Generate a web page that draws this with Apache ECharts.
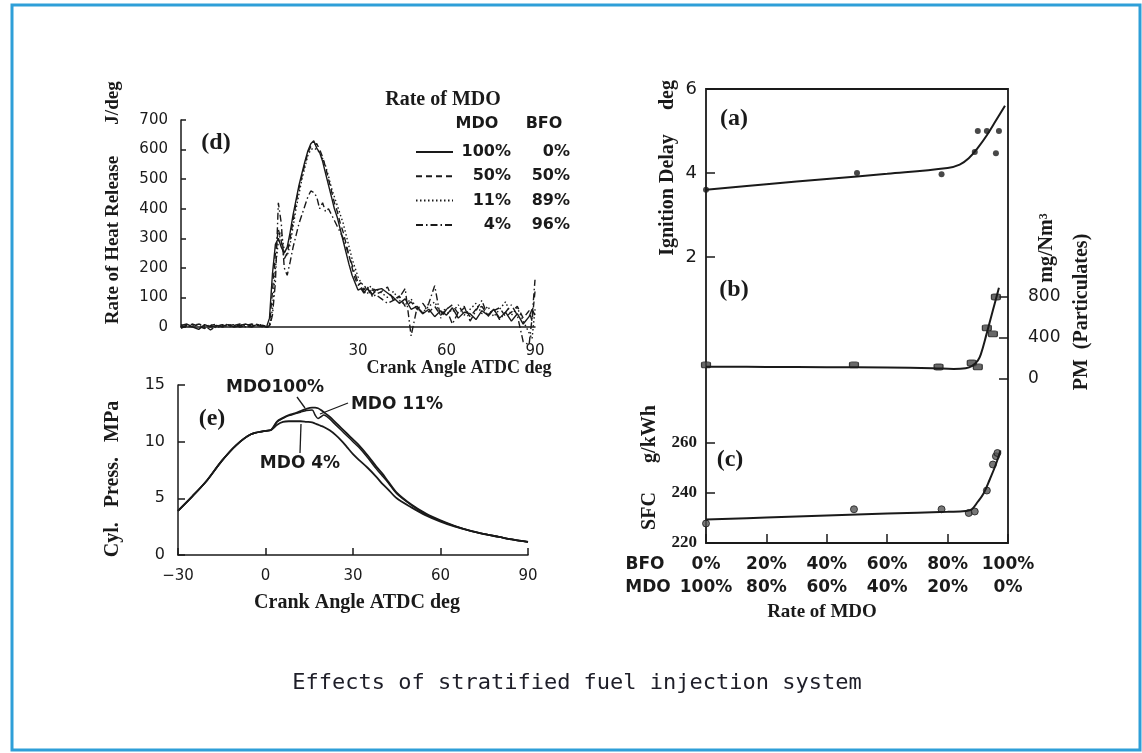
<!DOCTYPE html>
<html>
<head>
<meta charset="utf-8">
<script src="https://cdn.jsdelivr.net/npm/echarts@6/dist/echarts.min.js"></script>
<style>
html,body{margin:0;padding:0;background:#fff;}
#main{width:1142px;height:753px;}
</style>
</head>
<body>
<div id="main"></div>
<script>
// (d) rate of heat release, crank angle deg
var angD = [-30,-28,-26,-24,-22,-20,-18,-16,-14,-12,-10,-8,-6,-4,-2,
	-1,0,1,2,3,4,5,6,7,8,9,10,11,12,13,14,15,16,17,18,19,20,21,22,23,24,25,26,27,28,29,30,31,32,33,34,35,36,
	38,40,42,44,46,48,50,52,54,56,58,60,62,64,66,68,70,72,74,76,78,80,82,84,86,88,89,90];
var hr100 = [5,10,0,-8,8,0,5,2,8,0,5,10,3,8,2,
	0,30,180,280,300,270,250,270,320,380,
	430,480,520,560,595,620,630,605,590,560,
	520,480,440,400,370,330,290,250,210,175,
	150,125,130,115,130,120,110,125,
	130,115,100,80,95,60,70,45,60,35,55,40,65,
	30,50,45,25,55,40,60,30,50,20,45,10,35,
	60,40];
var hr50 = [0,5,10,2,-5,5,10,0,5,8,0,5,10,5,0,
	0,5,120,250,330,290,230,250,300,360,
	420,470,510,550,590,610,615,620,600,575,
	540,500,460,420,390,350,320,280,240,200,
	165,140,150,125,140,115,130,110,
	120,135,90,105,70,85,60,80,50,70,40,60,75,
	45,65,35,60,70,40,55,65,35,50,70,30,55,
	20,120];
var hr11 = [8,0,5,10,0,8,-3,5,10,2,8,0,5,10,5,
	3,0,60,200,290,320,260,240,280,340,
	400,450,500,540,580,600,605,600,590,570,
	545,510,470,440,410,380,350,310,270,230,
	200,170,150,140,130,140,120,130,
	115,100,120,90,75,95,60,50,70,85,45,65,50,
	75,40,60,80,45,70,35,60,85,40,65,20,-20,
	-40,60];
var hr4 = [-5,5,0,10,5,-10,3,8,0,5,10,3,0,8,5,
	0,0,40,150,420,350,200,175,220,270,
	310,350,380,410,440,460,455,440,400,420,
	390,400,380,360,340,320,300,270,240,210,
	180,150,135,120,110,125,100,110,
	95,80,90,100,130,-30,65,45,80,140,30,60,10,
	50,70,20,55,90,35,60,25,50,75,40,-50,-60,
	30,160];
var mdoRates = ['100%','50%','11%','4%'];
var bfoRates = ['0%','50%','89%','96%'];

// (e) cylinder pressure MPa
var angE = [-30,-25,-20,-15,-10,-5,0,2,4,6,8,10,12,14,16,17,18,19,20,22,24,26,28,30,32,35,38,40,42,45,50,55,60,65,70,75,80,85,90];
var p100 = [3.9,5.2,6.6,8.3,9.7,10.65,10.95,11.05,11.8,12.1,12.35,12.5,12.7,12.9,13.0,13.0,12.95,12.8,12.6,12.2,11.7,11.2,10.7,10.2,9.7,8.8,7.8,7.2,6.5,5.5,4.45,3.65,3.05,2.55,2.15,1.85,1.6,1.35,1.15];
var p11 = [3.9,5.2,6.6,8.3,9.7,10.65,10.95,11.05,11.75,12.05,12.3,12.45,12.6,12.75,12.8,12.35,12.05,12.2,12.35,12.0,11.5,11.0,10.5,10.0,9.5,8.6,7.6,7.0,6.4,5.4,4.4,3.6,3.0,2.55,2.15,1.85,1.6,1.35,1.15];
var p4 = [3.9,5.2,6.6,8.3,9.7,10.65,10.95,11.05,11.5,11.75,11.8,11.8,11.8,11.75,11.7,11.6,11.5,11.4,11.3,11.0,10.6,10.1,9.5,8.9,8.4,7.7,6.9,6.3,5.8,5.0,4.2,3.5,2.95,2.5,2.15,1.85,1.6,1.35,1.15];

// (a) ignition delay vs BFO rate %
var bfoA = [0,50,78,89,90,93,96,97];
var delayA = [3.6,4.0,3.97,4.5,5.0,5.0,4.47,5.0];
var fitXA = [0,20,40,60,80,84,87,90,93,96,99];
var fitA = [3.6,3.73,3.86,3.98,4.12,4.2,4.35,4.6,4.9,5.25,5.6];
// (b) PM mg/Nm3
var bfoB = [0,49,77,88,90,93,95,96];
var pmB = [137,137,117,156,118,498,440,800];
var fitXB = [0,20,40,60,75,82,86,88,90,91,93,95,97];
var fitB = [120,118,115,112,105,98,105,125,180,240,450,670,890];
// (c) SFC g/kWh
var bfoC = [0,49,78,87,89,93,95,96,96.5];
var sfcC = [227.8,233.5,233.5,232,232.6,241,251.4,254.7,256];
var fitXC = [0,20,40,60,80,86,88,90,92,94,96,97.5];
var fitC = [229.4,230.2,231,231.8,232.5,232.8,233.5,236.5,240,245.5,251.5,257];

// tick labels shown on the right-hand panel
var ticksA = [2,4,6];
var ticksB = [0,400,800];
var ticksC = [220,240,260];

function zip(xs, ys){ return xs.map(function(x,i){ return [x, ys[i]]; }); }

var ink = '#1a1a1a';
var sans = '"DejaVu Sans", sans-serif';
var serif = '"Liberation Serif", serif';

var dom = document.getElementById("main");
var myChart = echarts.init(dom);

option = {
	animation: false,
	backgroundColor: '#fff',
	grid: [
		{left:181, top:120, width:354, height:207, outerBoundsMode:'none'},   // d
		{left:178, top:385, width:350, height:170, outerBoundsMode:'none'},   // e
		{left:706, top:89, width:302, height:252, outerBoundsMode:'none'},    // a
		{left:706, top:256, width:302, height:123, outerBoundsMode:'none'},   // b
		{left:706, top:393, width:302, height:150, outerBoundsMode:'none'},   // c
		{left:706, top:89, width:302, height:454, outerBoundsMode:'none', show:true, borderColor:ink, borderWidth:1.8, backgroundColor:'transparent'} // frame
	],
	xAxis: [
		{gridIndex:0, type:'value', min:-30, max:90, interval:30,
			axisLine:{show:true, onZero:true, lineStyle:{color:ink, width:1.5}},
			axisTick:{show:false}, splitLine:{show:false},
			axisLabel:{margin:17, color:ink, fontFamily:sans, fontSize:15, formatter:function(v){ return v === -30 ? '' : v; }}},
		{gridIndex:1, type:'value', min:-30, max:90, interval:30,
			axisLine:{show:true, onZero:false, lineStyle:{color:ink, width:1.5}},
			axisTick:{show:true, inside:true, length:7, lineStyle:{color:ink, width:1.5}}, splitLine:{show:false},
			axisLabel:{margin:14, color:ink, fontFamily:sans, fontSize:15, formatter:function(v){ return v < 0 ? '\u2212' + (-v) : v; }}},
		{gridIndex:2, type:'value', min:0, max:100, show:false},
		{gridIndex:3, type:'value', min:0, max:100, show:false},
		{gridIndex:4, type:'value', min:0, max:100, interval:20,
			axisLine:{show:false, onZero:false},
			axisTick:{show:true, inside:true, length:9, lineStyle:{color:ink, width:1.5}}, splitLine:{show:false},
			axisLabel:{margin:10, color:ink, fontFamily:sans, fontWeight:'bold', fontSize:17, lineHeight:23,
				formatter:function(v){ return v + '%\n' + (100 - v) + '%'; }}},
		{gridIndex:5, type:'value', min:0, max:100, show:false}
	],
	yAxis: [
		{gridIndex:0, type:'value', min:0, max:700, interval:100,
			axisLine:{show:true, onZero:false, lineStyle:{color:ink, width:1.5}},
			axisTick:{show:true, inside:true, length:5, lineStyle:{color:ink, width:1.5}}, splitLine:{show:false},
			axisLabel:{margin:13, color:ink, fontFamily:sans, fontSize:15}},
		{gridIndex:1, type:'value', min:0, max:15, interval:5,
			axisLine:{show:true, onZero:false, lineStyle:{color:ink, width:1.5}},
			axisTick:{show:true, inside:true, length:7, lineStyle:{color:ink, width:1.5}}, splitLine:{show:false},
			axisLabel:{margin:13, color:ink, fontFamily:sans, fontSize:16}},
		{gridIndex:2, type:'value', min:0, max:6, interval:2,
			axisLine:{show:false, onZero:false},
			axisTick:{show:true, inside:true, length:9, customValues:ticksA, lineStyle:{color:ink, width:1.5}}, splitLine:{show:false},
			axisLabel:{margin:9, color:ink, fontFamily:sans, fontSize:18, customValues:ticksA}},
		{gridIndex:3, type:'value', position:'right', min:0, max:1200, interval:400,
			axisLine:{show:false, onZero:false},
			axisTick:{show:true, inside:true, length:9, customValues:ticksB, lineStyle:{color:ink, width:1.5}}, splitLine:{show:false},
			axisLabel:{margin:20, color:ink, fontFamily:sans, fontSize:17, customValues:ticksB}},
		{gridIndex:4, type:'value', min:220, max:280, interval:20,
			axisLine:{show:false, onZero:false},
			axisTick:{show:true, inside:true, length:9, customValues:ticksC, lineStyle:{color:ink, width:1.5}}, splitLine:{show:false},
			axisLabel:{margin:9, color:ink, fontFamily:serif, fontWeight:'bold', fontSize:17, customValues:ticksC}},
		{gridIndex:5, type:'value', min:0, max:1, show:false}
	],
	legend: {
		data: mdoRates,
		left: 410, top: 139,
		orient: 'vertical',
		itemWidth: 37, itemHeight: 14, itemGap: 8.3,
		selectedMode: false,
		itemStyle: {opacity: 0},
		formatter: function(name){ return '{a|' + name + '}{b|' + bfoRates[mdoRates.indexOf(name)] + '}'; },
		textStyle: {
			color: ink, fontFamily: sans, fontWeight: 'bold', fontSize: 16, lineHeight: 14,
			rich: {
				a: {width:53, align:'right', fontFamily:sans, fontWeight:'bold', fontSize:16, color:ink},
				b: {width:59, align:'right', fontFamily:sans, fontWeight:'bold', fontSize:16, color:ink}
			}
		}
	},
	series: [
		{name:'100%', type:'line', xAxisIndex:0, yAxisIndex:0, data:zip(angD, hr100), symbol:'none', clip:false,
			lineStyle:{color:ink, width:1.4, type:'solid'}, itemStyle:{color:ink}},
		{name:'50%', type:'line', xAxisIndex:0, yAxisIndex:0, data:zip(angD, hr50), symbol:'none', clip:false,
			lineStyle:{color:ink, width:1.4, type:[6,4]}, itemStyle:{color:ink}},
		{name:'11%', type:'line', xAxisIndex:0, yAxisIndex:0, data:zip(angD, hr11), symbol:'none', clip:false,
			lineStyle:{color:ink, width:1.4, type:[1.5,2.5]}, itemStyle:{color:ink}},
		{name:'4%', type:'line', xAxisIndex:0, yAxisIndex:0, data:zip(angD, hr4), symbol:'none', clip:false,
			lineStyle:{color:ink, width:1.4, type:[7,3,1.5,3]}, itemStyle:{color:ink}},

		{name:'MDO100%', type:'line', xAxisIndex:1, yAxisIndex:1, data:zip(angE, p100), symbol:'none', smooth:0.3,
			lineStyle:{color:ink, width:1.8}},
		{name:'MDO 11%', type:'line', xAxisIndex:1, yAxisIndex:1, data:zip(angE, p11), symbol:'none', smooth:0.3,
			lineStyle:{color:ink, width:1.5}},
		{name:'MDO 4%', type:'line', xAxisIndex:1, yAxisIndex:1, data:zip(angE, p4), symbol:'none', smooth:0.3,
			lineStyle:{color:ink, width:1.8}},

		{name:'Ignition Delay fit', type:'line', xAxisIndex:2, yAxisIndex:2, data:zip(fitXA, fitA), symbol:'none', smooth:0.4,
			lineStyle:{color:ink, width:2}},
		{name:'Ignition Delay', type:'scatter', xAxisIndex:2, yAxisIndex:2, data:zip(bfoA, delayA), symbolSize:6,
			itemStyle:{color:ink}},
		{name:'PM fit', type:'line', xAxisIndex:3, yAxisIndex:3, data:zip(fitXB, fitB), symbol:'none', smooth:0.4,
			lineStyle:{color:ink, width:2}},
		{name:'PM', type:'scatter', xAxisIndex:3, yAxisIndex:3, data:zip(bfoB, pmB), symbol:'roundRect', symbolSize:[9,6],
			itemStyle:{color:'#444', borderColor:ink, borderWidth:1}},
		{name:'SFC fit', type:'line', xAxisIndex:4, yAxisIndex:4, data:zip(fitXC, fitC), symbol:'none', smooth:0.4,
			lineStyle:{color:ink, width:2}},
		{name:'SFC', type:'scatter', xAxisIndex:4, yAxisIndex:4, data:zip(bfoC, sfcC), symbolSize:7,
			itemStyle:{color:'#555', borderColor:ink, borderWidth:1}}
	],
	graphic: {
		elements: [
			// page border
			{type:'rect', shape:{x:12, y:5, width:1128, height:745}, style:{fill:'none', stroke:'#2e9fd8', lineWidth:3}},
			// (d)
			{type:'text', x:216, y:143, style:{text:'(d)', font:'bold 24px "Liberation Serif"', fill:ink, align:'center', verticalAlign:'middle'}},
			{type:'text', x:113, y:240, rotation:Math.PI/2, style:{text:'Rate of Heat Release', font:'bold 19px "Liberation Serif"', fill:ink, align:'center', verticalAlign:'middle'}},
			{type:'text', x:113, y:103, rotation:Math.PI/2, style:{text:'J/deg', font:'bold 19px "Liberation Serif"', fill:ink, align:'center', verticalAlign:'middle'}},
			{type:'text', x:459, y:368, style:{text:'Crank Angle ATDC deg', font:'bold 18px "Liberation Serif"', fill:ink, align:'center', verticalAlign:'middle'}},
			{type:'text', x:443, y:100, style:{text:'Rate of MDO', font:'bold 20px "Liberation Serif"', fill:ink, align:'center', verticalAlign:'middle'}},
			{type:'text', x:477, y:124, style:{text:'MDO', font:'bold 16px "DejaVu Sans"', fill:ink, align:'center', verticalAlign:'middle'}},
			{type:'text', x:544, y:124, style:{text:'BFO', font:'bold 16px "DejaVu Sans"', fill:ink, align:'center', verticalAlign:'middle'}},
			// (e)
			{type:'text', x:212, y:419, style:{text:'(e)', font:'bold 24px "Liberation Serif"', fill:ink, align:'center', verticalAlign:'middle'}},
			{type:'text', x:113, y:479, rotation:Math.PI/2, style:{text:'Cyl.   Press.   MPa', font:'bold 20px "Liberation Serif"', fill:ink, align:'center', verticalAlign:'middle'}},
			{type:'text', x:357, y:603, style:{text:'Crank Angle ATDC deg', font:'bold 20px "Liberation Serif"', fill:ink, align:'center', verticalAlign:'middle'}},
			{type:'text', x:275, y:388, style:{text:'MDO100%', font:'bold 17px "DejaVu Sans"', fill:ink, align:'center', verticalAlign:'middle'}},
			{type:'line', shape:{x1:297, y1:397, x2:305, y2:408}, style:{stroke:ink, lineWidth:1.3}},
			{type:'text', x:397, y:405, style:{text:'MDO 11%', font:'bold 17px "DejaVu Sans"', fill:ink, align:'center', verticalAlign:'middle'}},
			{type:'line', shape:{x1:348, y1:403, x2:320, y2:414}, style:{stroke:ink, lineWidth:1.3}},
			{type:'text', x:300, y:464, style:{text:'MDO 4%', font:'bold 17px "DejaVu Sans"', fill:ink, align:'center', verticalAlign:'middle'}},
			{type:'line', shape:{x1:300, y1:453, x2:301, y2:424}, style:{stroke:ink, lineWidth:1.3}},
			// (a) (b) (c)
			{type:'text', x:734, y:119, style:{text:'(a)', font:'bold 24px "Liberation Serif"', fill:ink, align:'center', verticalAlign:'middle'}},
			{type:'text', x:734, y:290, style:{text:'(b)', font:'bold 24px "Liberation Serif"', fill:ink, align:'center', verticalAlign:'middle'}},
			{type:'text', x:730, y:460, style:{text:'(c)', font:'bold 24px "Liberation Serif"', fill:ink, align:'center', verticalAlign:'middle'}},
			{type:'text', x:668, y:195, rotation:Math.PI/2, style:{text:'Ignition Delay', font:'bold 20px "Liberation Serif"', fill:ink, align:'center', verticalAlign:'middle'}},
			{type:'text', x:668, y:95, rotation:Math.PI/2, style:{text:'deg', font:'bold 20px "Liberation Serif"', fill:ink, align:'center', verticalAlign:'middle'}},
			{type:'text', x:650, y:511, rotation:Math.PI/2, style:{text:'SFC', font:'bold 20px "Liberation Serif"', fill:ink, align:'center', verticalAlign:'middle'}},
			{type:'text', x:650, y:434, rotation:Math.PI/2, style:{text:'g/kWh', font:'bold 20px "Liberation Serif"', fill:ink, align:'center', verticalAlign:'middle'}},
			{type:'text', x:1082, y:312, rotation:Math.PI/2, style:{text:'PM  (Particulates)', font:'bold 20px "Liberation Serif"', fill:ink, align:'center', verticalAlign:'middle'}},
			{type:'text', x:1047, y:248, rotation:Math.PI/2, style:{text:'mg/Nm\u00b3', font:'bold 20px "Liberation Serif"', fill:ink, align:'center', verticalAlign:'middle'}},
			{type:'text', x:645, y:565, style:{text:'BFO', font:'bold 17px "DejaVu Sans"', fill:ink, align:'center', verticalAlign:'middle'}},
			{type:'text', x:648, y:588, style:{text:'MDO', font:'bold 17px "DejaVu Sans"', fill:ink, align:'center', verticalAlign:'middle'}},
			{type:'text', x:822, y:612, style:{text:'Rate of MDO', font:'bold 19px "Liberation Serif"', fill:ink, align:'center', verticalAlign:'middle'}},
			// caption
			{type:'text', x:577, y:683, style:{text:'Effects of stratified fuel injection system', font:'22px "DejaVu Sans Mono"', fill:'#1e1e28', align:'center', verticalAlign:'middle'}}
		]
	}
};

if (option && typeof option === "object") {
	myChart.setOption(option, true);
}
window.onresize = function(){
	myChart.resize();
}
</script>
</body>
</html>
